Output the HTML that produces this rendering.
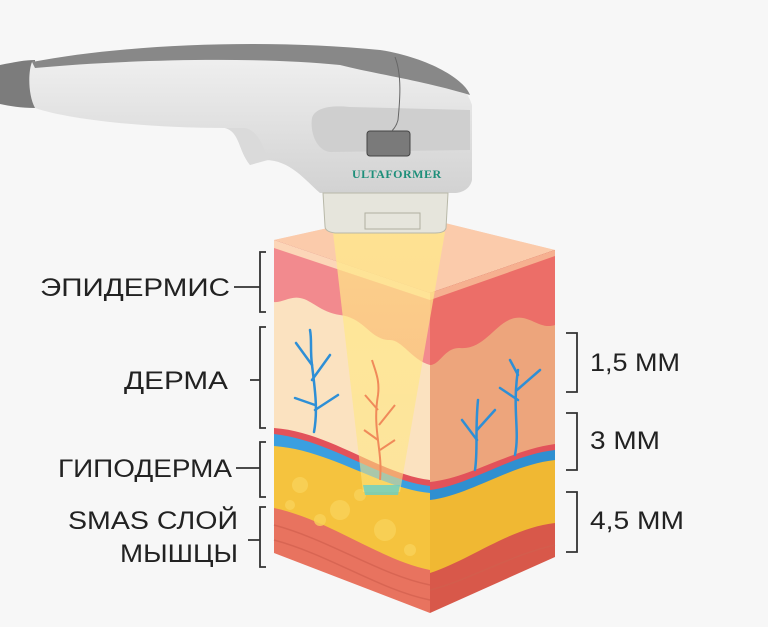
<!DOCTYPE html>
<html><head><meta charset="utf-8"><style>
html,body{margin:0;padding:0;background:#f7f7f7;}
svg{display:block}
text{font-family:"Liberation Sans",sans-serif;fill:#222;}
</style></head><body>
<svg width="768" height="627" viewBox="0 0 768 627" xmlns="http://www.w3.org/2000/svg">
<defs>
<linearGradient id="body" x1="0" y1="0" x2="0" y2="1"><stop offset="0" stop-color="#f2f2f2"/><stop offset="1" stop-color="#d2d2d2"/></linearGradient>
<linearGradient id="beam" x1="0" y1="0" x2="0" y2="1"><stop offset="0" stop-color="#ffe98a" stop-opacity="0.75"/><stop offset="1" stop-color="#ffe680" stop-opacity="0.55"/></linearGradient>
</defs>
<rect width="768" height="627" fill="#f7f7f7"/>

<polygon points="274,240 400,212 555,250 430,293" fill="#f9c2a2"/>
<polygon points="274,240 400,212 555,250 430,293" fill="#fbd0b0" opacity="0.6"/>
<polygon points="274,240 430,293 430,613 274,553" fill="#e8735f"/>
<path d="M274,240 L430,293 L430,570 C380,560 330,520 274,508 Z" fill="#f5c33e"/>
<path d="M274,240 L430,293 L430,493 C380,488 330,450 274,446 Z" fill="#3a9fe0"/>
<path d="M274,240 L430,293 L430,486 C380,480 330,440 274,434 Z" fill="#e2525a"/>
<path d="M274,240 L430,293 L430,480 C380,474 330,432 274,428 Z" fill="#fbe2c0"/>
<path d="M274,240 L430,293 L430,365 C412,360 402,340 390,340 C370,340 365,318 340,315 C320,312 312,300 300,298 C290,296 282,303 274,302 Z" fill="#f28a8e"/>
<polygon points="274,240 430,293 430,300 274,248" fill="#fcd6b8"/>
<polygon points="430,293 555,250 555,557 430,613" fill="#d8584a"/>
<path d="M430,293 L555,250 L555,523 C510,528 470,560 430,573 Z" fill="#f0b833"/>
<path d="M430,293 L555,250 L555,460 C510,465 470,495 430,500 Z" fill="#2f8fd0"/>
<path d="M430,293 L555,250 L555,450 C510,455 470,485 430,490 Z" fill="#e2525a"/>
<path d="M430,293 L555,250 L555,444 C510,450 470,478 430,482 Z" fill="#eda57c"/>
<path d="M430,293 L555,250 L555,325 C540,330 530,315 515,318 C495,322 485,350 460,348 C445,347 440,365 430,365 Z" fill="#ec6e68"/>
<polygon points="430,293 555,250 555,256 430,300" fill="#f6b090"/>
<g fill="#f9d35a" opacity="0.8">
<circle cx="300" cy="485" r="8"/><circle cx="340" cy="510" r="10"/><circle cx="385" cy="530" r="11"/><circle cx="320" cy="520" r="6"/><circle cx="290" cy="505" r="5"/><circle cx="360" cy="495" r="6"/><circle cx="410" cy="550" r="6"/>
</g>
<g stroke="#d2604e" stroke-width="1.5" fill="none" opacity="0.7">
<path d="M274,525 C330,540 380,575 430,585"/><path d="M274,540 C330,555 380,590 430,600"/>
<path d="M430,590 C470,580 510,555 555,545"/>
</g>
<g stroke="#2e8fd6" stroke-width="2.5" fill="none" stroke-linecap="round">
<path d="M314,432 C318,410 315,390 312,365 C310,350 312,340 310,330"/>
<path d="M312,365 L296,343 M312,380 L330,355 M315,405 L295,398 M315,410 L338,395"/>
<path d="M475,470 C478,450 475,430 478,400"/><path d="M477,440 L462,420 M477,430 L495,410"/>
<path d="M515,455 C520,430 512,410 518,370"/><path d="M518,400 L500,388 M517,390 L540,370 M518,375 L510,360"/>
</g>
<polygon points="333,232 445,232 400,492 363,492" fill="url(#beam)"/>
<polygon points="363,485 400,485 398,495 365,495" fill="#66d0c8" opacity="0.8"/>
<g stroke="#f08a5a" stroke-width="2" fill="none">
<path d="M380,480 C383,450 372,430 378,395 C380,380 375,370 372,360"/>
<path d="M378,410 L365,395 M379,425 L395,405 M378,440 L364,430 M380,450 L395,440"/>
</g>

<path d="M0,65 C15,62 25,60 35,60 L35,108 C20,108 10,106 0,104 Z" fill="#7c7c7c"/>
<path d="M32,62 C120,45 260,38 380,50 C430,58 465,80 472,105 L472,180 C470,190 460,193 455,193 L320,193 C305,180 290,160 265,160 L250,165 C238,150 240,132 225,128 C150,128 70,120 35,108 C28,95 28,72 32,62 Z" fill="url(#body)"/>
<path d="M32,62 C120,45 260,38 380,50 C430,58 465,80 470,95 C420,80 380,75 340,65 C250,56 120,60 35,68 Z" fill="#888"/>
<path d="M225,128 C240,132 238,150 250,165 L268,160 C262,140 255,130 245,128 Z" fill="#dadada"/>
<path d="M312,118 C315,108 330,105 350,107 L470,110 L470,150 L330,152 C315,150 310,130 312,118 Z" fill="#cfcfcf"/>
<rect x="367" y="131" width="43" height="25" rx="3" fill="#7a7a7a" stroke="#444"/>
<path d="M395,57 C402,75 400,100 398,120 C396,128 392,130 392,131" stroke="#666" fill="none"/>
<text x="352" y="178" font-size="12" style="fill:#1e8f7a;font-family:'Liberation Serif',serif;font-weight:bold;letter-spacing:0.5px">ULTAFORMER</text>
<path d="M323,193 L448,193 L446,228 C445,232 440,233 435,233 L335,233 C328,232 325,230 325,226 Z" fill="#e6e5dc" stroke="#b8b8a8"/>
<rect x="365" y="213" width="55" height="16" fill="none" stroke="#b0b0a0"/>

<g font-size="25">
<text x="40" y="296" textLength="190" lengthAdjust="spacingAndGlyphs">ЭПИДЕРМИС</text>
<text x="124" y="389" textLength="104" lengthAdjust="spacingAndGlyphs">ДЕРМА</text>
<text x="58" y="477" textLength="174" lengthAdjust="spacingAndGlyphs">ГИПОДЕРМА</text>
<text x="68" y="529" textLength="170" lengthAdjust="spacingAndGlyphs">SMAS СЛОЙ</text>
<text x="120" y="562" textLength="118" lengthAdjust="spacingAndGlyphs">МЫШЦЫ</text>
<text x="590" y="371" textLength="90" lengthAdjust="spacingAndGlyphs">1,5 ММ</text>
<text x="590" y="449" textLength="70" lengthAdjust="spacingAndGlyphs">3 ММ</text>
<text x="590" y="529" textLength="94" lengthAdjust="spacingAndGlyphs">4,5 ММ</text>
</g>
<g stroke="#333" stroke-width="1.8" fill="none">
<path d="M266,252 L260,252 L260,312 L266,312 M260,287 L234,287"/>
<path d="M266,327 L260,327 L260,428 L266,428 M260,380 L250,380"/>
<path d="M266,442 L260,442 L260,497 L266,497 M260,468 L236,468"/>
<path d="M266,507 L260,507 L260,567 L266,567 M260,540 L248,540"/>
<path d="M566,333 L577,333 L577,392 L566,392"/>
<path d="M566,413 L577,413 L577,470 L566,470"/>
<path d="M566,492 L577,492 L577,552 L566,552"/>
</g>
</svg>
</body></html>
